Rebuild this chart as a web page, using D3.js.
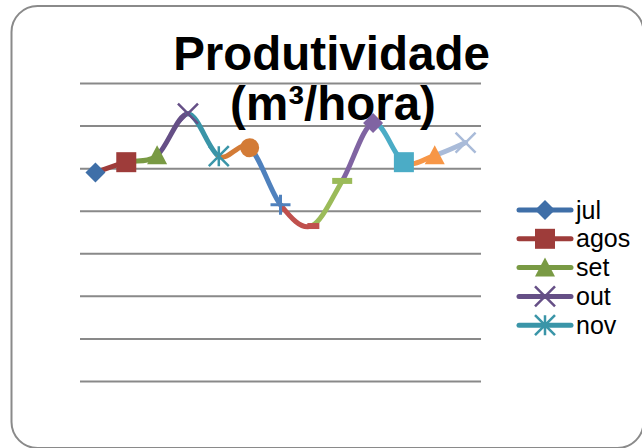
<!DOCTYPE html>
<html>
<head>
<meta charset="utf-8">
<script src="https://cdn.jsdelivr.net/npm/d3@7"></script>
<style>
  body { margin: 0; background: #fff; }
  svg { display: block; font-family: "Liberation Sans", Arial, sans-serif; }
</style>
</head>
<body>
<div id="chart"></div>
<script>
// months, one point each (colours vary by point)
var months = ["jul", "agos", "set", "out", "nov", "dez", "jan", "fev", "mar", "abr", "mai", "jun", "jul"];
var produtividade = [24.5, 25.7, 26.5, 31.4, 26.4, 27.4, 20.7, 18.2, 23.5, 30.3, 25.7, 26.5, 28.0];
var pointColors = ["#3f6fa8", "#9e3c3a", "#799a44", "#654f86", "#3a95a8", "#d37b36",
                   "#4f81bd", "#c0504d", "#9bbb59", "#8064a2", "#4bacc6", "#f79646", "#a9bbd9"];
var markers = ["diamond", "square", "triangle", "x", "star", "circle",
               "plus", "dot", "dash", "diamond", "square", "triangle", "x"];
var yTicks = [0, 5, 10, 15, 20, 25, 30, 35];
var legendCount = 5; // only first five entries fit in the legend box

var svgWidth = 642;
var svgHeight = 448;
var plot = { left: 80, right: 481, top: 83, bottom: 381 };

var svg = d3.select("#chart")
  .append("svg")
  .attr("width", svgWidth)
  .attr("height", svgHeight);

// chart frame
svg.append("rect")
  .attr("x", 11.5).attr("y", 6)
  .attr("width", 632).attr("height", 442)
  .attr("rx", 26)
  .attr("fill", "#fff")
  .attr("stroke", "#8a8a8a")
  .attr("stroke-width", 2);

var x = d3.scalePoint()
  .domain(d3.range(months.length))
  .range([plot.left, plot.right])
  .padding(0.5);

var y = d3.scaleLinear()
  .domain([0, 35])
  .range([plot.bottom, plot.top]);

// gridlines
var grid = svg.append("g")
  .attr("transform", `translate(${plot.left},0)`)
  .call(d3.axisLeft(y).tickValues(yTicks).tickSize(-(plot.right - plot.left)).tickFormat(""));
grid.select(".domain").remove();
grid.selectAll("line").attr("stroke", "#898989").attr("stroke-width", 2);

// title
var title = svg.append("text")
  .attr("text-anchor", "middle")
  .attr("font-weight", "bold")
  .attr("font-size", "47.5px")
  .attr("fill", "#000");
title.append("tspan").attr("x", 331.5).attr("y", 70).text("Produtividade");
title.append("tspan").attr("x", 333).attr("y", 120).text("(m³/hora)");

function drawMarker(g, type, cx, cy, color) {
  var s = 10;
  if (type === "diamond") {
    g.append("path").attr("d", `M${cx},${cy - s}L${cx + s},${cy}L${cx},${cy + s}L${cx - s},${cy}Z`).attr("fill", color);
  } else if (type === "square") {
    g.append("rect").attr("x", cx - s).attr("y", cy - s).attr("width", 2 * s).attr("height", 2 * s).attr("fill", color);
  } else if (type === "triangle") {
    g.append("path").attr("d", `M${cx},${cy - s}L${cx + s},${cy + s - 1}L${cx - s},${cy + s - 1}Z`).attr("fill", color);
  } else if (type === "circle") {
    g.append("circle").attr("cx", cx).attr("cy", cy).attr("r", s - 0.5).attr("fill", color);
  } else if (type === "x") {
    g.append("path").attr("d", `M${cx - s},${cy - s}L${cx + s},${cy + s}M${cx + s},${cy - s}L${cx - s},${cy + s}`)
      .attr("stroke", color).attr("stroke-width", 2.5);
  } else if (type === "star") {
    g.append("path").attr("d", `M${cx - s},${cy - s}L${cx + s},${cy + s}M${cx + s},${cy - s}L${cx - s},${cy + s}M${cx},${cy - s}L${cx},${cy + s}`)
      .attr("stroke", color).attr("stroke-width", 2.5);
  } else if (type === "plus") {
    g.append("path").attr("d", `M${cx - s},${cy}L${cx + s},${cy}M${cx},${cy - s}L${cx},${cy + s}`)
      .attr("stroke", color).attr("stroke-width", 3);
  } else if (type === "dot") {
    g.append("rect").attr("x", cx - 4).attr("y", cy - 3).attr("width", 12).attr("height", 6).attr("fill", color);
  } else if (type === "dash") {
    g.append("rect").attr("x", cx - s).attr("y", cy - 3).attr("width", 2 * s).attr("height", 6).attr("fill", color);
  }
}

// smoothed line, each segment takes the colour of the point it ends on
var pts = produtividade.map((v, i) => [x(i), y(v)]);
var lines = svg.append("g");
for (var i = 1; i < pts.length; i++) {
  var p0 = pts[Math.max(i - 2, 0)], p1 = pts[i - 1], p2 = pts[i], p3 = pts[Math.min(i + 1, pts.length - 1)];
  var path = d3.path();
  path.moveTo(p1[0], p1[1]);
  path.bezierCurveTo(
    p1[0] + (p2[0] - p0[0]) / 6, p1[1] + (p2[1] - p0[1]) / 6,
    p2[0] - (p3[0] - p1[0]) / 6, p2[1] - (p3[1] - p1[1]) / 6,
    p2[0], p2[1]);
  lines.append("path")
    .attr("d", path.toString())
    .attr("fill", "none")
    .attr("stroke", pointColors[i])
    .attr("stroke-width", 5)
    .attr("stroke-linecap", "round");
}

var markerGroup = svg.append("g");
pts.forEach(function(p, i) {
  drawMarker(markerGroup, markers[i], p[0], p[1], pointColors[i]);
});

// legend
var legend = svg.append("g");
for (var k = 0; k < legendCount; k++) {
  var ly = 210 + k * 28.8;
  legend.append("line")
    .attr("x1", 519).attr("x2", 571).attr("y1", ly).attr("y2", ly)
    .attr("stroke", pointColors[k]).attr("stroke-width", 5).attr("stroke-linecap", "round");
  drawMarker(legend, markers[k], 545, ly, pointColors[k]);
  legend.append("text")
    .attr("x", 576).attr("y", ly + 8.5)
    .attr("font-size", "25px")
    .attr("fill", "#000")
    .text(months[k]);
}
</script>
</body>
</html>
